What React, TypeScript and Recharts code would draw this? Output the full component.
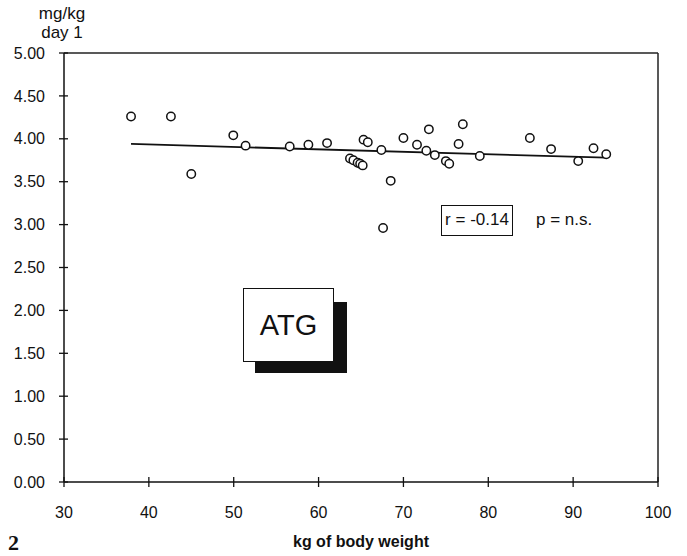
import React from 'react';
import {
  ComposedChart,
  Scatter,
  XAxis,
  YAxis,
  ReferenceLine,
} from 'recharts';

// body weight (kg) and ATG dose (mg/kg, day 1)
const weights = [
  37.9, 42.6, 45.0, 49.95, 51.4, 56.6, 58.8, 61.0, 65.3, 65.8,
  63.7, 64.1, 64.6, 64.9, 65.2, 67.4, 68.5, 67.6, 70.0, 71.6,
  73.0, 72.7, 73.7, 75.0, 75.4, 76.5, 77.0, 79.0, 84.9, 87.4,
  90.6, 92.4, 93.9,
];
const doses = [
  4.26, 4.26, 3.59, 4.04, 3.92, 3.91, 3.93, 3.95, 3.99, 3.96,
  3.77, 3.75, 3.72, 3.71, 3.69, 3.87, 3.51, 2.96, 4.01, 3.93,
  4.11, 3.86, 3.81, 3.74, 3.71, 3.94, 4.17, 3.8, 4.01, 3.88,
  3.74, 3.89, 3.82,
];

// regression line end points
const fitX = [37.9, 93.9];
const fitY = [3.94, 3.78];

const xTicks = [30, 40, 50, 60, 70, 80, 90, 100];
const yTicks = [0, 0.5, 1, 1.5, 2, 2.5, 3, 3.5, 4, 4.5, 5];

const points = weights.map((w, i) => ({ x: w, y: doses[i] }));

const FONT = '"Liberation Sans", Arial, Helvetica, sans-serif';

// outward tick part comes from tickLine, the inward stub is drawn here
function YTick(props: any) {
  const { x, y, payload } = props;
  return (
    <g>
      <line x1={x + 19} x2={x + 23} y1={y} y2={y} stroke="#111" strokeWidth={1.3} />
      <text x={x} y={y} dy="0.35em" textAnchor="end" fontSize={16} fill="#111">
        {Number(payload.value).toFixed(2)}
      </text>
    </g>
  );
}

function XTick(props: any) {
  const { x, y, payload } = props;
  return (
    <g>
      <line x1={x} x2={x} y1={y - 30} y2={y - 25} stroke="#111" strokeWidth={1.3} />
      <text x={x} y={y} dy="0.71em" textAnchor="middle" fontSize={16} fill="#111">
        {payload.value}
      </text>
    </g>
  );
}

function OpenCircle(props: any) {
  const { cx, cy } = props;
  return <circle cx={cx} cy={cy} r={4.2} fill="#fff" stroke="#111" strokeWidth={1.5} />;
}

export default function App() {
  return (
    <div style={{ position: 'relative', width: 687, height: 556, fontFamily: FONT, background: '#fff' }}>
      <style>{'body{margin:0}'}</style>
      <ComposedChart
        width={687}
        height={556}
        data={points}
        margin={{ top: 53, right: 29, bottom: 44, left: 0 }}
      >
        <XAxis
          dataKey="x"
          type="number"
          domain={[30, 100]}
          ticks={xTicks}
          interval={0}
          height={30}
          tickSize={5}
          tickMargin={20}
          tickLine={{ stroke: '#111', strokeWidth: 1.3 }}
          tick={<XTick />}
          stroke="#111"
          strokeWidth={1.5}
          label={{ value: 'kg of body weight', position: 'bottom', offset: 24, fontSize: 16, fontWeight: 'bold', fill: '#111' }}
        />
        <YAxis
          dataKey="y"
          type="number"
          domain={[0, 5]}
          ticks={yTicks}
          interval={0}
          width={64}
          tickSize={5}
          tickMargin={14}
          tickLine={{ stroke: '#111', strokeWidth: 1.3 }}
          tick={<YTick />}
          stroke="#111"
          strokeWidth={1.5}
        />
        <ReferenceLine y={5} stroke="#222" strokeWidth={1.5} />
        <ReferenceLine x={100} stroke="#222" strokeWidth={1.5} />
        <ReferenceLine
          segment={[
            { x: fitX[0], y: fitY[0] },
            { x: fitX[1], y: fitY[1] },
          ]}
          stroke="#111"
          strokeWidth={1.8}
        />
        <Scatter dataKey="y" shape={<OpenCircle />} isAnimationActive={false} />
      </ComposedChart>

      {/* y-axis unit */}
      <div style={{ position: 'absolute', left: 26, top: 4, width: 72, textAlign: 'center', fontSize: 17, lineHeight: '19px', color: '#111' }}>
        mg/kg
        <br />
        day 1
      </div>

      {/* figure number */}
      <div style={{ position: 'absolute', left: 8, top: 530, fontFamily: '"Liberation Serif", serif', fontWeight: 'bold', fontSize: 22, color: '#111' }}>
        2
      </div>

      {/* correlation box */}
      <div
        style={{
          position: 'absolute',
          left: 441,
          top: 205,
          width: 72,
          height: 31,
          border: '1.5px solid #111',
          boxSizing: 'border-box',
          fontSize: 17,
          lineHeight: '28px',
          textAlign: 'center',
          color: '#111',
        }}
      >
        r = -0.14
      </div>
      <div style={{ position: 'absolute', left: 536, top: 210, fontSize: 17, lineHeight: '20px', color: '#111' }}>
        p = n.s.
      </div>

      {/* ATG label with drop shadow */}
      <div style={{ position: 'absolute', left: 255, top: 302, width: 92, height: 71, background: '#111' }} />
      <div
        style={{
          position: 'absolute',
          left: 243,
          top: 288,
          width: 91,
          height: 74,
          background: '#fff',
          border: '1.5px solid #111',
          boxSizing: 'border-box',
          fontSize: 29,
          lineHeight: '72px',
          textAlign: 'center',
          color: '#111',
        }}
      >
        ATG
      </div>
    </div>
  );
}
